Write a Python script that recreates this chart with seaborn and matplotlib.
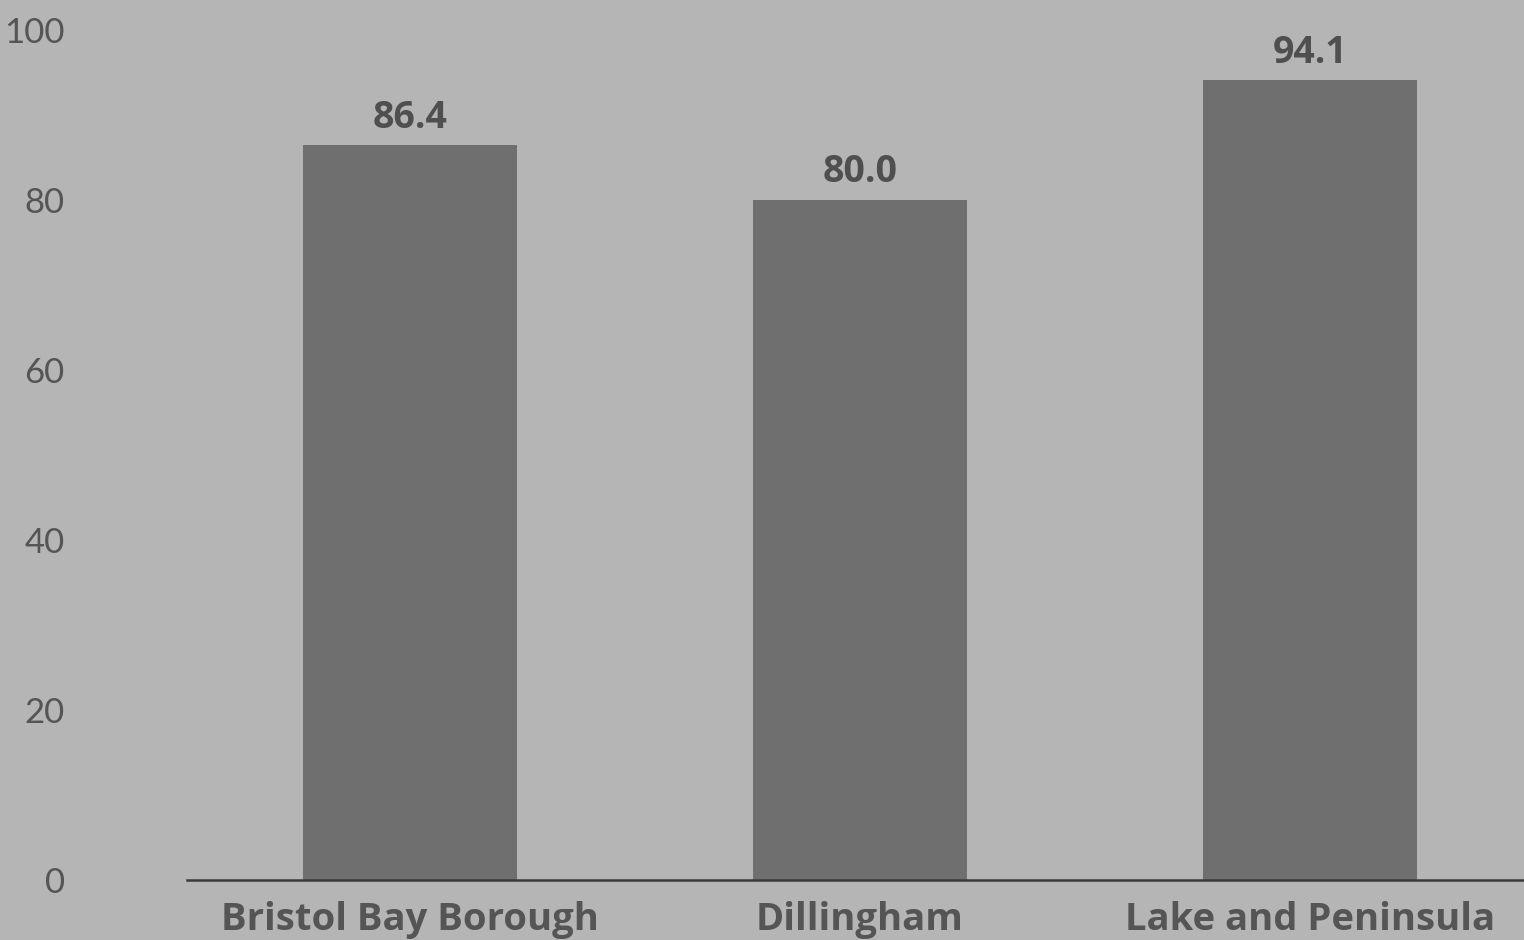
import pandas as pd
import seaborn as sns
import matplotlib.pyplot as plt

# data
regions = ['Bristol Bay Borough', 'Dillingham', 'Lake and Peninsula']
values = [86.4, 80.0, 94.1]
yticks = [0, 20, 40, 60, 80, 100]

df = pd.DataFrame({'region': regions, 'value': values})

sns.set_style('white')
plt.rcParams['font.family'] = ['Lato', 'DejaVu Sans']

bg = '#b5b5b5'
fig = plt.figure(figsize=(15.24, 9.4), dpi=100, facecolor=bg)
ax = fig.add_axes([187 / 1524, 60 / 940, 1 - 187 / 1524, 880 / 940])
ax.set_facecolor(bg)

sns.barplot(data=df, x='region', y='value', color='#6f6f6f', saturation=1,
            width=0.475, linewidth=0, ax=ax)

# value labels above the bars
ax.bar_label(ax.containers[0], fmt='%.1f', padding=6, fontsize=27,
             fontweight='bold', color='#4f4f4f', family=['Open Sans'])

ax.set_xlim(-0.496, 2.476)
ax.set_ylim(0, 103.5)
ax.set_yticks(yticks)
ax.set_xticks(range(len(regions)))
ax.set_xticklabels(regions, fontsize=27.5, fontweight='bold', color='#555555',
                   family=['Open Sans'])
ax.set_xlabel('')
ax.set_ylabel('')

for s in ['top', 'right', 'left']:
    ax.spines[s].set_visible(False)
ax.spines['bottom'].set_color('#3a3a3a')
ax.spines['bottom'].set_linewidth(1.8)

ax.tick_params(axis='y', length=0, labelsize=25, labelcolor='#555555', pad=88)
ax.tick_params(axis='x', length=0, pad=15)

fig.savefig('out.png', dpi=100, facecolor=bg)
